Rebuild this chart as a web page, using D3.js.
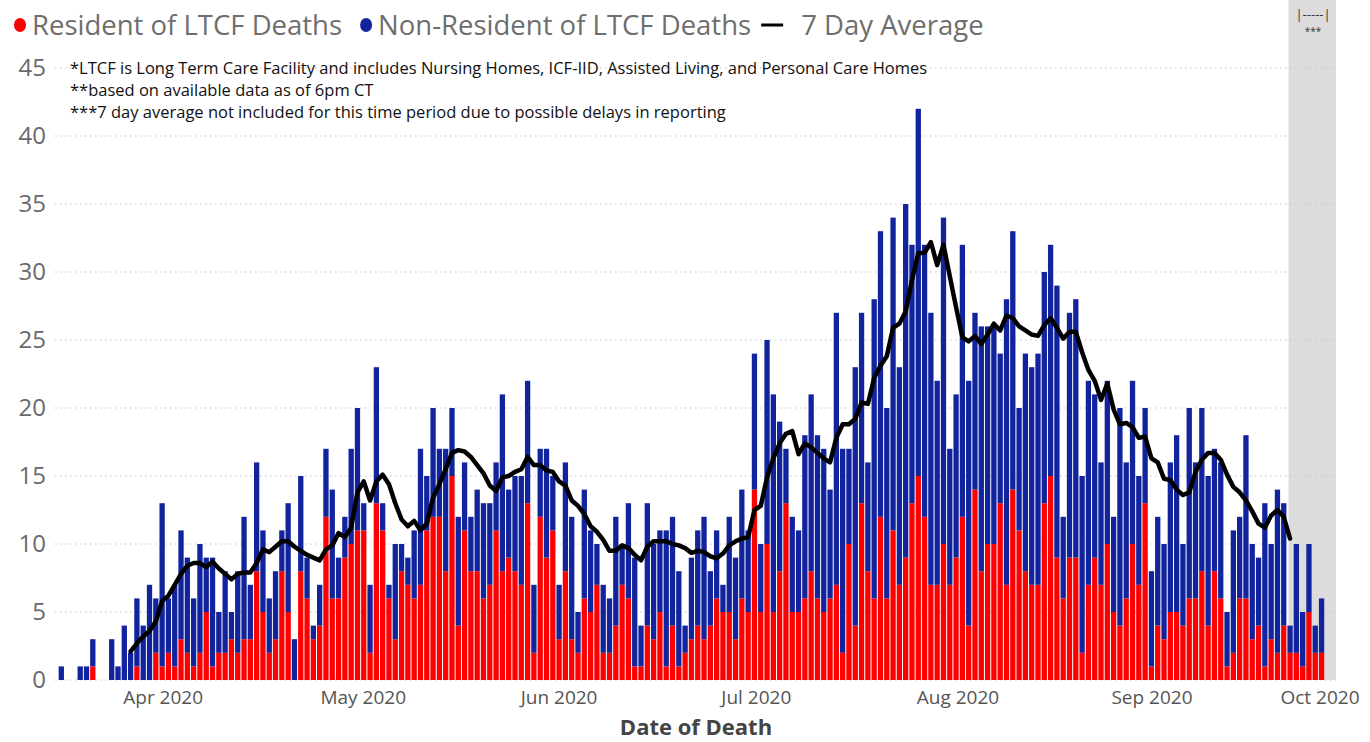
<!DOCTYPE html>
<html>
<head>
<meta charset="utf-8">
<script src="https://cdn.jsdelivr.net/npm/d3@7"></script>
<style>
  body { margin: 0; background: #fff; }
  svg { display: block; font-family: "Open Sans", sans-serif; }
</style>
</head>
<body>
<svg id="chart" width="1370" height="742"></svg>
<script>
// one value per day starting at firstDay (deaths by date of death)
const firstDay = "2020-03-16";
const resident = [
  0,0,0,0,0,1,0,0,0,0,0,0,1,0,0,2,
  1,2,1,3,2,1,2,5,1,2,2,3,2,3,3,8,5,2,3,8,5,0,8,6,3,4,12,6,6,9,
  10,11,11,2,13,11,6,3,8,7,6,7,11,12,12,8,15,4,11,8,8,6,7,11,8,9,8,7,13,2,12,
  9,11,3,8,3,2,6,5,7,2,2,4,7,6,1,1,4,3,5,1,4,1,2,3,4,3,4,6,5,5,
  3,6,5,14,5,10,5,8,13,5,5,6,8,6,5,6,7,2,10,4,13,8,6,12,6,11,7,9,13,15,12,
  7,7,10,7,9,12,4,14,8,10,10,13,7,14,11,8,7,7,13,15,9,6,9,9,2,7,9,7,10,5,4,
  6,10,7,13,1,4,3,5,5,4,6,6,8,4,8,6,1,2,6,6,3,4,1,3,2,4,2,2,1,5,
  2,2
];
const nonResident = [
  1,0,0,1,1,2,0,0,3,1,4,2,5,4,7,4,
  12,4,6,8,7,5,8,4,8,3,6,2,6,9,4,8,6,4,5,3,8,3,7,3,1,3,5,8,3,3,
  7,9,2,5,10,2,1,7,2,2,5,10,4,8,5,9,5,8,5,4,6,7,6,5,13,5,7,8,9,5,5,
  8,4,4,8,9,3,8,6,3,5,4,8,3,7,8,3,9,7,6,10,8,7,2,6,7,9,4,5,2,7,
  6,8,6,10,5,15,16,11,4,7,6,12,13,12,12,8,20,15,7,19,14,8,22,21,14,23,16,26,19,27,20,
  20,15,24,10,12,20,18,13,18,16,16,11,21,19,9,16,16,17,17,17,20,6,18,19,13,15,12,9,12,7,16,
  10,12,8,7,7,8,7,11,13,6,14,10,12,11,9,10,4,9,6,12,7,5,12,7,12,9,2,8,4,5,
  2,4
];

// 7 day average, one value per day starting at avgStart
const avgStart = "2020-03-27";
const sevenDayAvg = [
  2.1,2.7,3.2,3.6,4.3,
  5.8,6.2,7.0,7.8,8.4,8.6,8.6,8.3,8.7,8.2,7.8,7.4,7.8,7.9,7.9,8.6,9.6,9.4,9.8,10.2,10.2,9.8,9.5,9.2,9.0,8.8,9.6,9.9,10.8,10.5,
  11.2,13.8,14.6,13.2,14.6,15.1,14.4,13.0,11.8,11.3,11.7,11.0,11.5,13.4,14.4,15.5,16.7,16.9,16.8,16.4,15.8,15.2,14.3,13.9,14.9,15.0,15.3,15.5,16.4,15.8,15.8,
  15.4,15.3,14.6,14.3,13.2,12.8,12.2,11.3,10.9,10.3,9.5,9.5,9.9,9.7,9.2,8.8,9.8,10.2,10.2,10.2,10.0,9.9,9.7,9.35,9.5,9.4,9.1,8.95,9.3,9.9,
  10.2,10.4,10.5,12.5,12.8,14.9,16.3,17.4,18.1,18.3,16.6,17.4,17.1,16.7,16.3,16.0,17.8,18.8,18.8,19.2,20.4,20.3,22.2,23.1,23.8,25.9,26.2,27.1,29.4,31.4,31.4,
  32.2,30.5,32.0,29.7,27.4,25.2,24.9,25.3,24.7,25.4,26.2,25.7,26.8,26.6,26.0,25.7,25.4,25.3,26.1,26.6,25.9,25.1,25.6,25.6,24.1,22.8,22.0,20.6,21.8,19.9,18.8,
  18.9,18.6,17.8,17.9,16.3,16.0,14.8,14.7,14.0,13.6,13.8,15.3,16.2,16.7,16.7,16.2,15.1,14.2,13.8,13.2,12.4,11.5,11.2,12.1,12.5,12.0,10.4
];

const yTicks = [0, 5, 10, 15, 20, 25, 30, 35, 40, 45];
const xTickDates = ["2020-04-01T04:00Z", "2020-05-02T22:00Z", "2020-06-03T00:00Z", "2020-07-04T07:00Z",
                    "2020-08-05T07:00Z", "2020-09-05T02:00Z", "2020-10-01T18:00Z"];
const xTickLabels = ["Apr 2020", "May 2020", "Jun 2020", "Jul 2020", "Aug 2020", "Sep 2020", "Oct 2020"];

const seriesNames = ["Resident of LTCF Deaths", "Non-Resident of LTCF Deaths", "7 Day Average"];
const notes = [
  "*LTCF is Long Term Care Facility and includes Nursing Homes, ICF-IID, Assisted Living, and Personal Care Homes",
  "**based on available data as of 6pm CT",
  "***7 day average not included for this time period due to possible delays in reporting"
];

const RED = "#ff0000", BLUE = "#12239e";

const svg = d3.select("#chart");
const x = d3.scaleUtc()
  .domain([new Date("2020-03-15T00:00Z"), new Date("2020-10-04T07:00Z")])
  .range([55, 1336]);
const y = d3.scaleLinear().domain([0, 45]).range([680, 68]);

const day0 = new Date(firstDay + "T00:00Z");
const rows = resident.map((r, i) => ({
  date: d3.utcDay.offset(day0, i), res: r, non: nonResident[i]
}));
const avg0 = new Date(avgStart + "T00:00Z");
const avgRows = sevenDayAvg.map((v, i) => ({ date: d3.utcDay.offset(avg0, i), v }));

// shaded "not included" period
const lastAvg = avgRows[avgRows.length - 1].date;
svg.append("rect")
  .attr("x", x(lastAvg) - 1.5)
  .attr("y", 0)
  .attr("width", x.range()[1] - x(lastAvg) + 1.5)
  .attr("height", y(0))
  .attr("fill", "#dcdcdc");

svg.append("text")
  .attr("x", x(lastAvg) + 23).attr("y", 19)
  .attr("text-anchor", "middle")
  .attr("font-size", 13).attr("fill", "#333")
  .text("|-----|");
svg.append("text")
  .attr("x", x(lastAvg) + 23).attr("y", 35)
  .attr("text-anchor", "middle")
  .attr("font-size", 10).attr("fill", "#333")
  .text("***");

// gridlines
svg.append("g")
  .selectAll("line")
  .data(yTicks)
  .join("line")
  .attr("x1", 55).attr("x2", x.range()[1])
  .attr("y1", d => y(d)).attr("y2", d => y(d))
  .attr("stroke", "#c4c4c4")
  .attr("stroke-width", 1)
  .attr("stroke-dasharray", "1.5,3.5");

// y labels
svg.append("g")
  .selectAll("text")
  .data(yTicks)
  .join("text")
  .attr("x", 46).attr("y", d => y(d))
  .attr("dy", "0.35em")
  .attr("text-anchor", "end")
  .attr("font-size", 24)
  .attr("fill", "#6a6a6a")
  .text(d => d);

// stacked bars
const stacked = d3.stack().keys(["res", "non"])(rows);
const bw = 5.3;
svg.append("g")
  .selectAll("g")
  .data(stacked)
  .join("g")
  .attr("fill", (d, i) => i === 0 ? RED : BLUE)
  .selectAll("rect")
  .data(d => d.filter(p => p[1] > p[0]))
  .join("rect")
  .attr("x", d => x(d.data.date) - bw / 2)
  .attr("width", bw)
  .attr("y", d => y(d[1]))
  .attr("height", d => y(d[0]) - y(d[1]));

// 7 day average line
svg.append("path")
  .datum(avgRows)
  .attr("fill", "none")
  .attr("stroke", "#000")
  .attr("stroke-width", 4.5)
  .attr("stroke-linejoin", "round")
  .attr("stroke-linecap", "round")
  .attr("d", d3.line().x(d => x(d.date)).y(d => y(d.v)));

// x labels
svg.append("g")
  .selectAll("text")
  .data(xTickDates)
  .join("text")
  .attr("x", d => x(new Date(d)))
  .attr("y", 704)
  .attr("text-anchor", "middle")
  .attr("font-size", 19)
  .attr("fill", "#555")
  .text((d, i) => xTickLabels[i]);

svg.append("text")
  .attr("x", 696).attr("y", 735)
  .attr("text-anchor", "middle")
  .attr("font-size", 22)
  .attr("font-weight", "bold")
  .attr("fill", "#444")
  .text("Date of Death");

// notes
svg.append("g")
  .selectAll("text")
  .data(notes)
  .join("text")
  .attr("x", 70)
  .attr("y", (d, i) => 74 + i * 22)
  .attr("font-size", 16.5)
  .attr("fill", "#111")
  .text(d => d);

// legend
const legend = svg.append("g").attr("font-size", 27.5).attr("fill", "#6e6e6e");
let lx = 20;
seriesNames.forEach((name, i) => {
  if (i < 2) {
    legend.append("ellipse")
      .attr("cx", lx).attr("cy", 25).attr("rx", 6).attr("ry", 7)
      .attr("fill", i === 0 ? RED : BLUE);
    lx += 12;
  } else {
    legend.append("line")
      .attr("x1", lx - 14).attr("x2", lx + 8)
      .attr("y1", 25).attr("y2", 25)
      .attr("stroke", "#000").attr("stroke-width", 3);
    lx += 26;
  }
  const t = legend.append("text")
    .attr("x", lx).attr("y", 35)
    .text(name);
  lx += t.node().getComputedTextLength() + 24;
});
</script>
</body>
</html>
